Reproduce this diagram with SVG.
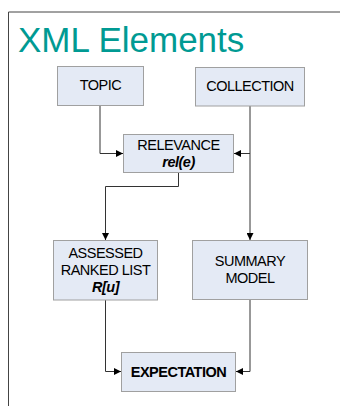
<svg xmlns="http://www.w3.org/2000/svg" width="340" height="406" viewBox="0 0 340 406">
<defs>
<style>
.box{fill:#E4EAF5;stroke:#A0A0A0;stroke-width:1}
.t{font-family:"Liberation Sans",Arial,sans-serif;font-size:14.5px;letter-spacing:-0.5px;fill:#000;text-anchor:middle}
.b{font-weight:bold}
.bi{font-weight:bold;font-style:italic}
.c{fill:none;stroke:#333;stroke-width:1}
</style>
<marker id="ah" viewBox="0 0 10 10" refX="10" refY="5" markerWidth="9" markerHeight="7" markerUnits="userSpaceOnUse" orient="auto">
<path d="M0,0 L10,5 L0,10 z" fill="#000"/>
</marker>
</defs>
<rect width="340" height="406" fill="#fff"/>
<path d="M340,12 H8.5 V406" fill="none" stroke="#444" stroke-width="1"/>
<text x="18" y="52" font-family="'Liberation Sans',Arial,sans-serif" font-size="35" fill="#009A93">XML Elements</text>
<g id="connectors">
<path class="c" d="M100,105.5 V153.5 H123" marker-end="url(#ah)"/>
<path class="c" d="M250,106 V240" marker-end="url(#ah)"/>
<path class="c" d="M250,153.5 H234" marker-end="url(#ah)"/>
<path class="c" d="M178.5,172.5 V186.5 H105.5 V240" marker-end="url(#ah)"/>
<path class="c" d="M105.5,300 V371.5 H121" marker-end="url(#ah)"/>
<path class="c" d="M250,299.5 V371.5 H236" marker-end="url(#ah)"/>
</g>
<g id="topic">
<rect class="box" x="57.5" y="66.5" width="86" height="39"/>
<text class="t" x="100.5" y="90">TOPIC</text>
</g>
<g id="collection">
<rect class="box" x="195.5" y="67.5" width="109" height="38.5"/>
<text class="t" x="250" y="91">COLLECTION</text>
</g>
<g id="relevance">
<rect class="box" x="123.5" y="134.5" width="110" height="38"/>
<text class="t" x="178.5" y="149.5">RELEVANCE</text>
<text class="t bi" x="178.5" y="166.5">rel(e)</text>
</g>
<g id="assessed">
<rect class="box" x="53.5" y="240.5" width="104" height="59.5"/>
<text class="t" x="105.5" y="257.5">ASSESSED</text>
<text class="t" x="105.5" y="275">RANKED LIST</text>
<text class="t bi" x="105.5" y="292">R[u]</text>
</g>
<g id="summary">
<rect class="box" x="192.5" y="240.5" width="115" height="59"/>
<text class="t" x="250" y="265.5">SUMMARY</text>
<text class="t" x="250" y="282.5">MODEL</text>
</g>
<g id="expectation">
<rect class="box" x="121.5" y="352.5" width="114" height="39"/>
<text class="t b" x="178.5" y="376.5">EXPECTATION</text>
</g>
</svg>
